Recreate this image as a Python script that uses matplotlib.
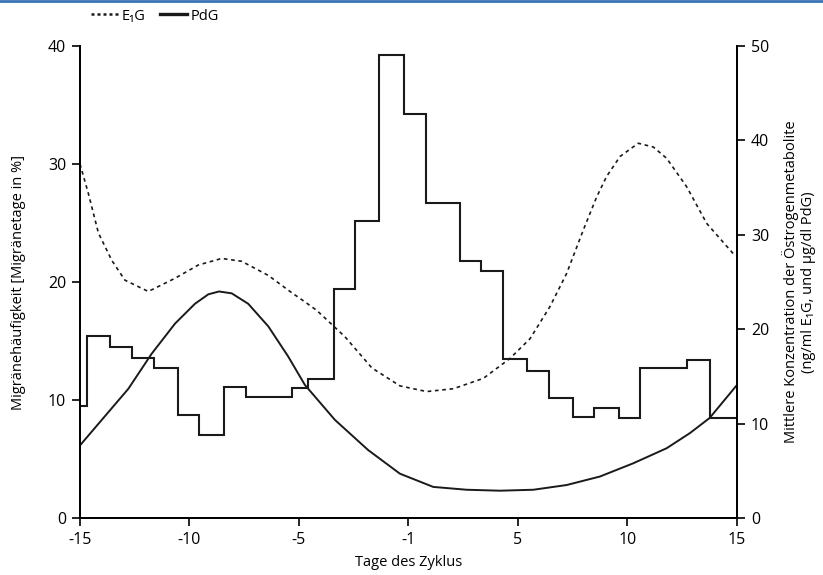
import matplotlib
matplotlib.use("Agg")
import matplotlib.pyplot as plt
from matplotlib.lines import Line2D

plt.rcParams["font.family"] = ["Open Sans", "DejaVu Sans"]
plt.rcParams["font.size"] = 10.5

# migraine frequency (step histogram), left axis, % of days
bin_edges = [-15, -14.67, -13.63, -12.64, -11.62, -10.54, -9.57, -8.42, -7.43,
             -5.32, -4.58, -3.39, -2.43, -1.33, -0.21, 0.80, 2.37, 3.31, 4.30,
             5.42, 6.42, 7.51, 8.47, 9.63, 10.58, 12.71, 13.75, 15]
migraine_pct = [9.5, 15.4, 14.5, 13.6, 12.7, 8.7, 7.0, 11.1, 10.3, 11.0, 11.8,
                19.4, 25.2, 39.2, 34.2, 26.7, 21.8, 20.9, 13.5, 12.5, 10.2, 8.6,
                9.3, 8.5, 12.7, 13.4, 8.5]

# E1G (ng/ml), right axis
e1g_day = [-15, -14.62, -14.16, -13.55, -12.95, -11.88, -10.66, -9.60, -8.53,
           -7.62, -6.40, -5.41, -4.73, -4.19, -2.90, -1.67, -0.39, 0.83, 2.05,
           3.42, 4.63, 5.55, 6.46, 7.22, 7.98, 8.59, 9.05, 9.66, 10.49, 11.18,
           11.79, 12.70, 13.62, 14.83, 15]
e1g_conc = [37.5, 34.4, 30.2, 27.3, 25.2, 24.0, 25.4, 26.8, 27.5,
            27.2, 25.7, 24.0, 22.9, 22.0, 19.2, 15.9, 14.0, 13.4, 13.7,
            14.8, 16.9, 19.0, 22.4, 25.9, 30.5, 34.0, 36.2, 38.3, 39.7, 39.3,
            38.1, 35.1, 31.2, 28.0, 27.9]

# PdG (ug/dl), right axis
pdg_day = [-15, -12.79, -11.73, -10.66, -9.75, -9.14, -8.65, -8.07, -7.32,
           -6.40, -5.49, -4.73, -3.36, -1.84, -0.39, 1.13, 2.66, 4.18, 5.70,
           7.22, 8.74, 10.26, 11.79, 12.85, 13.75, 15]
pdg_conc = [7.7, 13.7, 17.4, 20.6, 22.7, 23.7, 24.0, 23.8, 22.7,
            20.3, 17.1, 14.1, 10.4, 7.2, 4.7, 3.3, 3.0, 2.9, 3.0,
            3.5, 4.4, 5.8, 7.4, 9.0, 10.6, 14.1]

x_ticks = [-15, -10, -5, 0, 5, 10, 15]
x_ticklabels = ["-15", "-10", "-5", "-1", "5", "10", "15"]

fig = plt.figure(figsize=(8.23, 5.75), dpi=100)
ax = fig.add_axes([0.0972, 0.099, 0.7983, 0.821])
ax2 = ax.twinx()

ax.stairs(migraine_pct, bin_edges, baseline=None, color="#1a1a1a", linewidth=1.5)
ax2.plot(e1g_day, e1g_conc, color="#1a1a1a", linewidth=1.2, linestyle=(0, (2.2, 2.2)))
ax2.plot(pdg_day, pdg_conc, color="#1a1a1a", linewidth=1.4)

ax.set_xlim(-15, 15)
ax.set_ylim(0, 40)
ax2.set_ylim(0, 50)
ax.set_xticks(x_ticks)
ax.set_xticklabels(x_ticklabels)
ax.set_yticks([0, 10, 20, 30, 40])
ax2.set_yticks([0, 10, 20, 30, 40, 50])

for a in (ax, ax2):
    a.spines["top"].set_visible(False)
    for s in a.spines.values():
        s.set_linewidth(1.3)
    a.tick_params(width=1.2, length=6, direction="out", pad=4, labelsize=11.5)

ax.set_xlabel("Tage des Zyklus", labelpad=5)
ax.set_ylabel("Migränehäufigkeit [Migränetage in %]", labelpad=16)
ax2.set_ylabel("Mittlere Konzentration der Östrogenmetabolite\n(ng/ml E\u2081G, und µg/dl PdG)",
               labelpad=9)

handles = [Line2D([], [], color="#1a1a1a", linewidth=1.8, linestyle=(0, (1.2, 1.2))),
           Line2D([], [], color="#1a1a1a", linewidth=2.4)]
fig.legend(handles, ["E\u2081G", "PdG"], loc="upper left", bbox_to_anchor=(0.095, 1.008),
           ncol=2, frameon=False, handlelength=1.8, handletextpad=0.3, columnspacing=1.0)

# thin blue rule along the top edge
fig.add_artist(Line2D([0, 1], [0.998, 0.998], transform=fig.transFigure,
                      color="#3a72b4", linewidth=2))

fig.savefig("out.png", dpi=100)
